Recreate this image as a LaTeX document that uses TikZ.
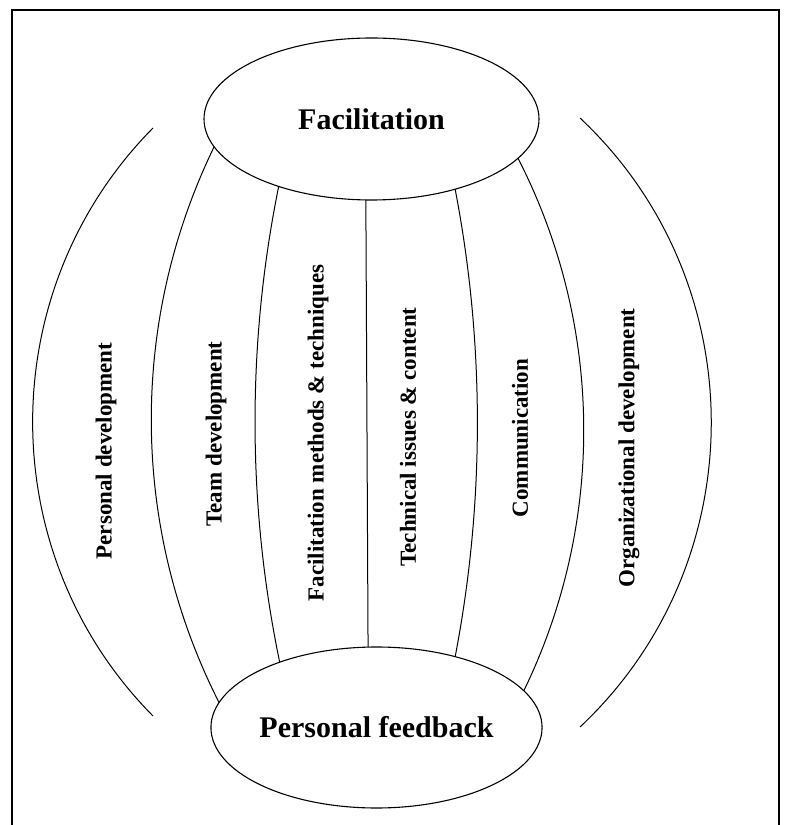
\documentclass[tikz,border=0pt]{standalone}
\usepackage{fontspec}
\setmainfont{Liberation Serif}
\usetikzlibrary{shapes.geometric}
\begin{document}
\begin{tikzpicture}[x=1pt,y=1pt,
  hub/.style={draw, ellipse, line width=1.1pt, inner sep=0pt, outer sep=0pt,
    font=\fontsize{30}{36}\selectfont\bfseries},
  band/.style={line width=1pt},
  lbl/.style={rotate=90, inner sep=0pt, font=\fontsize{23}{28}\selectfont\bfseries},
  frameline/.style={line width=2pt, line join=miter}]
\useasboundingbox (0,0) rectangle (785,825);
\clip (0,0) rectangle (785,825);
\draw[frameline] (12,-10) -- (12,815) -- (778.5,815) -- (778.5,-10);

\node[hub, minimum width=335pt, minimum height=162pt] (top) at (371.5,706) {Facilitation};
\node[hub, minimum width=325pt, minimum height=161pt] (bot) at (376.5,97.5) {Personal feedback};

% outer arcs
\coordinate (pl1) at (153,697);
\coordinate (pl2) at (153,109);
\draw[band] (pl1) to[bend right=44.7, looseness=0.995] (pl2);
\coordinate (po1) at (580,707);
\coordinate (po2) at (580,98);
\draw[band] (po1) to[bend left=46.8, looseness=1.011] (po2);

% inner connectors
\draw[band] (top.190.6) to[bend right=26.4, looseness=0.9] (bot.171);
\draw[band] (top.216.4) to[bend right=11.6, looseness=0.86] (bot.146.1);
\draw[band] (top.266.8) -- (bot.96.7);
\draw[band] (top.320) to[bend left=10.9, looseness=0.86] (bot.42.7);
\draw[band] (top.345.6) to[bend left=26.5, looseness=0.9] (bot.14.9);

% labels
\node[lbl] (pd) at (106,374) {Personal development};
\node[lbl] (td) at (216,391) {Team development};
\node[lbl] (fm) at (318,392) {Facilitation methods \& techniques};
\node[lbl] (ti) at (408,388) {Technical issues \& content};
\node[lbl] (co) at (520,387) {Communication};
\node[lbl] (od) at (629,377) {Organizational development};
\end{tikzpicture}
\end{document}
